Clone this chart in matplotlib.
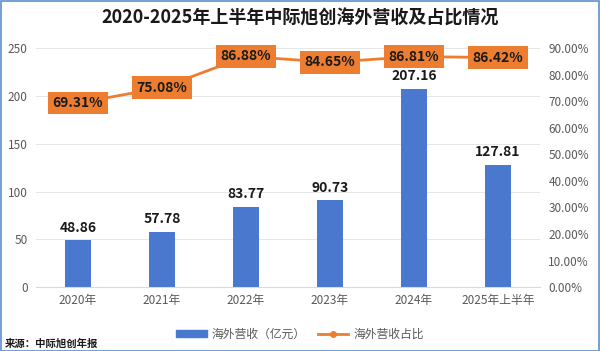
import matplotlib
matplotlib.use("Agg")
import matplotlib.pyplot as plt
from matplotlib.patches import Rectangle, Patch
from matplotlib.lines import Line2D

plt.rcParams['font.family'] = ['Noto Sans CJK SC', 'DejaVu Sans']

categories = ["2020年", "2021年", "2022年", "2023年", "2024年", "2025年上半年"]
revenue = [48.86, 57.78, 83.77, 90.73, 207.16, 127.81]
share = [69.31, 75.08, 86.88, 84.65, 86.81, 86.42]
left_ticks = [0, 50, 100, 150, 200, 250]
right_ticks = [0, 10, 20, 30, 40, 50, 60, 70, 80, 90]

blue = "#4A78CF"
orange = "#ED7D31"
tick_col = "#595959"

fig = plt.figure(figsize=(6.0, 3.51), dpi=100)
ax = fig.add_axes([0.06, 0.182, 0.84, 0.681])
x = list(range(len(categories)))
ax.bar(x, revenue, width=0.32, color=blue, zorder=2)
ax.set_ylim(0, 250)
ax.set_xlim(-0.5, len(categories) - 0.5)
ax.set_yticks(left_ticks)
ax.set_xticks(x)
ax.set_xticklabels(categories, fontsize=8.5, color=tick_col)
ax.tick_params(axis='y', labelsize=8.5, colors=tick_col, length=0, pad=6)
ax.tick_params(axis='x', length=0, pad=5)
ax.grid(axis='y', color="#E6E6E6", linewidth=0.7, zorder=0)
for s in ["top", "right", "left"]:
    ax.spines[s].set_visible(False)
ax.spines["bottom"].set_color("#D9D9D9")
for xi, v in zip(x, revenue):
    ax.annotate(f"{v:.2f}", (xi, v), xytext=(0, 4), textcoords="offset points",
                ha="center", va="bottom", fontsize=10, fontweight="bold", color="#1a1a1a")

ax2 = ax.twinx()
ax2.plot(x, share, color=orange, linewidth=2, marker="o", markersize=4, zorder=3)
ax2.set_ylim(0, 90)
ax2.set_yticks(right_ticks)
ax2.set_yticklabels([f"{t:.2f}%" for t in right_ticks])
ax2.tick_params(axis='y', labelsize=8.5, colors=tick_col, length=0, pad=6)
for s in ["top", "right", "left", "bottom"]:
    ax2.spines[s].set_visible(False)
for xi, v in zip(x, share):
    ax2.text(xi, v, f"{v:.2f}%", ha="center", va="center", fontsize=10,
             fontweight="bold", color="#1a1a1a", zorder=5,
             bbox=dict(boxstyle="square,pad=0.32", fc=orange, ec="none"))

fig.text(0.5, 0.948, "2020-2025年上半年中际旭创海外营收及占比情况", ha="center", va="center",
         fontsize=13, fontweight="bold", color="#1a1a1a")

handles = [Patch(color=blue), Line2D([0], [0], color=orange, lw=2, marker="o", markersize=4)]
fig.legend(handles, ["海外营收（亿元）", "海外营收占比"], loc="center", bbox_to_anchor=(0.5, 0.048),
           ncol=2, frameon=False, fontsize=8.5, handlelength=2.6, handleheight=0.6,
           columnspacing=1.0, handletextpad=0.4, labelcolor=tick_col)
fig.text(0.008, 0.022, "来源：中际旭创年报", ha="left", va="center", fontsize=7.5,
         fontweight="bold", color="#1a1a1a")

fig.add_artist(Rectangle((0.001, 0.001), 0.997, 0.996, transform=fig.transFigure,
                         fill=False, ec="#5B8FD0", lw=1.2))
fig.savefig("out.png", dpi=100)
